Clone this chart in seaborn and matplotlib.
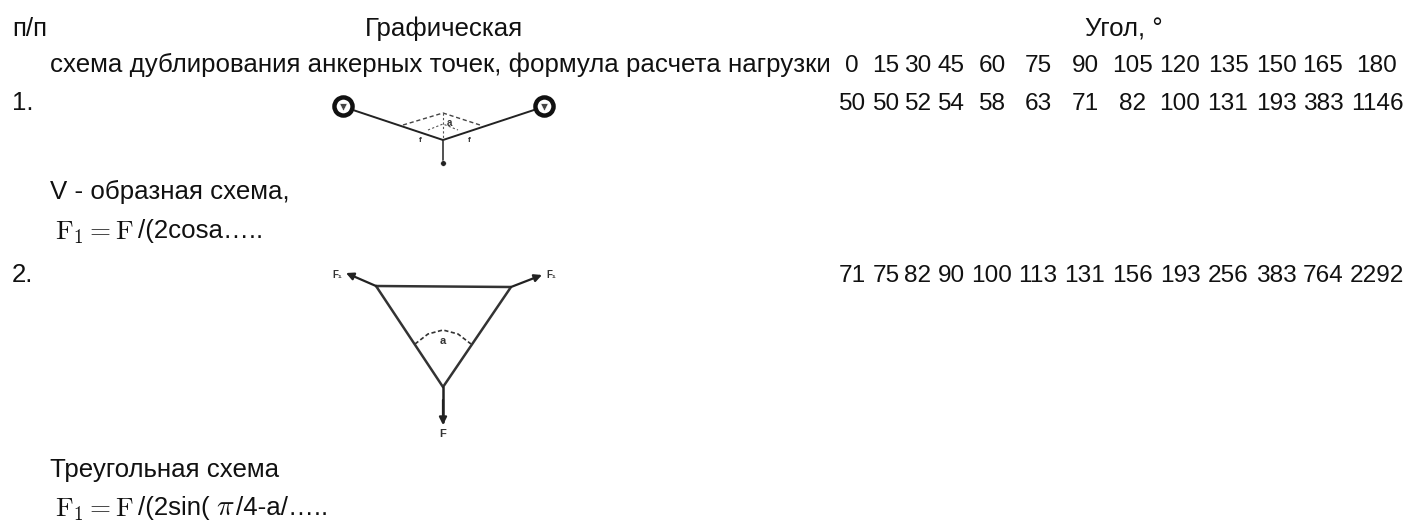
import matplotlib
matplotlib.use("Agg")
import pandas as pd
import seaborn as sns
import matplotlib.pyplot as plt

angles = [0, 15, 30, 45, 60, 75, 90, 105, 120, 135, 150, 165, 180]
v_scheme = [50, 50, 52, 54, 58, 63, 71, 82, 100, 131, 193, 383, 1146]
tri_scheme = [71, 75, 82, 90, 100, 113, 131, 156, 193, 256, 383, 764, 2292]
col_x = [852, 886, 918, 951, 992, 1038, 1085, 1133, 1180, 1228, 1276, 1323, 1377]

# diagram strokes, in pixels of the picture
v_lines = {"x": [350, 443, 537], "y": [109, 140, 109]}
v_drop = {"x": [443, 443], "y": [140, 163]}
v_dash = {"x": [403, 443, 480], "y": [125, 113, 125]}
v_dash_in = {"x": [428, 443, 458], "y": [130, 124, 130]}
v_dash_mid = {"x": [443, 443], "y": [113, 140]}
tri_lines = {"x": [376, 511, 443, 376], "y": [286, 287, 387, 286]}
tri_drop = {"x": [443, 443], "y": [387, 422]}
tri_arc = {"x": [415, 428, 443, 458, 471], "y": [344, 334, 330, 334, 344]}

sns.set_theme(style="white")
plt.rcParams["font.family"] = ["Liberation Sans", "DejaVu Sans"]
plt.rcParams["mathtext.fontset"] = "cm"

FS = 18.6
NUM_FS = 17.6
INK = "#111111"

fig, ax = plt.subplots(figsize=(14.07, 5.23), dpi=100)
fig.subplots_adjust(0, 0, 1, 1)
ax.set_xlim(0, 1407)
ax.set_ylim(523, 0)
ax.axis("off")


def put(x, y, s, ha="left", size=FS):
    ax.text(x, y, s, ha=ha, va="baseline", fontsize=size, color=INK)


def small(x, y, s, size=7):
    ax.text(x, y, s, fontsize=size, color="#333333", ha="center", va="center", fontweight="bold")


def stroke(d, lw=1.6, ls="-", color="#222222"):
    sns.lineplot(data=pd.DataFrame(d), x="x", y="y", sort=False, estimator=None, ax=ax,
                 color=color, lw=lw, ls=ls, legend=False, errorbar=None)


def arrow(tip, tail):
    ax.annotate("", xy=tip, xytext=tail,
                arrowprops=dict(arrowstyle="-|>", color="#222222", lw=1.6, mutation_scale=11,
                                shrinkA=0, shrinkB=0))


put(12, 36, "п/п")
put(365, 36, "Графическая")
put(1085, 36, "Угол, °")
put(50, 72, "схема дублирования анкерных точек, формула расчета нагрузки")
put(12, 110, "1.")
put(12, 282, "2.")

for x, a, v, t in zip(col_x, angles, v_scheme, tri_scheme):
    put(x, 72, str(a), ha="center", size=NUM_FS)
    put(x, 110, str(v), ha="center", size=NUM_FS)
    put(x, 282, str(t), ha="center", size=NUM_FS)

put(50, 199, "V - образная схема,")
put(55, 239, r"$\mathrm{F}_1=\mathrm{F}$", size=19.5)
put(138, 238, "/(2cosa…..")
put(50, 477, "Треугольная схема")
put(55, 516, r"$\mathrm{F}_1=\mathrm{F}$", size=19.5)
put(138, 515, "/(2sin(")
put(216, 515, r"$\pi$", size=21)
put(236, 515, "/4-a/…..")

# V scheme
stroke(v_lines, lw=1.4)
stroke(v_drop, lw=1.1)
stroke(v_dash, lw=1.0, ls=(0, (3, 2)), color="#444444")
stroke(v_dash_in, lw=0.8, ls=(0, (2, 2)), color="#555555")
stroke(v_dash_mid, lw=0.8, ls=(0, (2, 2)), color="#555555")
sns.scatterplot(x=[343, 544], y=[106, 106], s=170, color="white", edgecolor="#111111",
                linewidth=3.2, ax=ax, legend=False, zorder=5)
sns.scatterplot(x=[343, 544], y=[107, 107], s=30, color="#444444", marker="v", ax=ax,
                legend=False, zorder=6)
sns.scatterplot(x=[443], y=[163], s=16, color="#222222", ax=ax, legend=False, zorder=5)
small(420, 141, "f", size=6)
small(469, 141, "f", size=6)
small(449, 123, "a", size=7)

# triangle scheme
stroke(tri_lines, lw=1.8, color="#333333")
stroke(tri_drop, lw=1.8)
stroke(tri_arc, lw=1.2, ls=(0, (2.5, 1.5)), color="#333333")
arrow((346, 273), (376, 286))
arrow((542, 275), (511, 287))
arrow((443, 425), (443, 400))
small(337, 275, "F₁")
small(551, 275, "F₁")
small(443, 434, "F", size=8)
small(443, 341, "a", size=8)

fig.savefig("out.png", dpi=100)
